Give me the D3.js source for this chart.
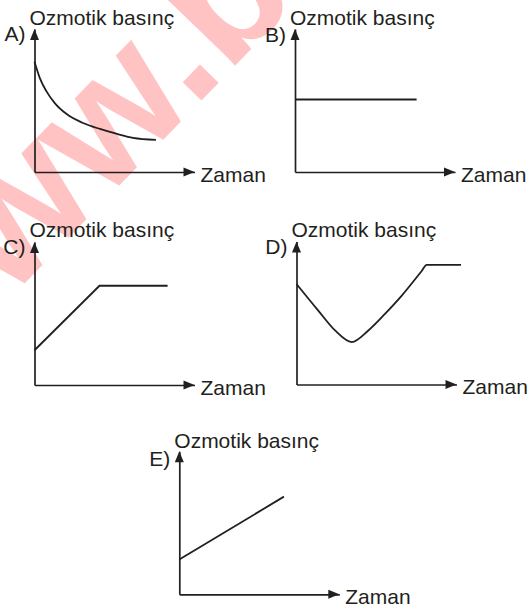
<!DOCTYPE html>
<html lang="tr">
<head>
    <meta charset="UTF-8">
    <title>Ozmotik basınç - Zaman</title>
    <script src="https://cdnjs.cloudflare.com/ajax/libs/d3/7.8.5/d3.min.js"></script>
    <style>
        body { margin: 0; background: #fff; }
        text { font-family: "Liberation Sans", Arial, sans-serif; fill: #231f20; }
    </style>
</head>
<body>
    <script>
        // Axis titles and panel letters
        var yTitle = "Ozmotik basınç";
        var xTitle = "Zaman";
        var panelLabels = ["A)", "B)", "C)", "D)", "E)"];

        // Series per panel, time (0-100) and osmotic pressure (0-100)
        var timeA = [0, 3.4, 7.6, 12.8, 20.1, 30.3, 40.9, 51.6, 61.6, 75.9];
        var pressureA = [77.1, 65.5, 56.2, 48, 40.5, 34.3, 30.1, 26.6, 23.8, 22.4];
        var timeB = [0, 76];
        var pressureB = [50.7, 50.7];
        var timeC = [0, 40.6, 83.2];
        var pressureC = [24.3, 69.4, 69.4];
        var timeD = [0, 13.6, 24.1, 34.5, 44.9, 55.3, 65.8, 78, 81.4, 102.8];
        var pressureD = [70.3, 51.7, 37.8, 29.7, 37.8, 49.4, 62.2, 79, 83.7, 83.7];
        var timeE = [0, 65.4];
        var pressureE = [24.3, 68.3];

        var series = [
            {time: timeA, pressure: pressureA, smooth: true},
            {time: timeB, pressure: pressureB, smooth: false},
            {time: timeC, pressure: pressureC, smooth: false},
            {time: timeD, pressure: pressureD, smooth: true},
            {time: timeE, pressure: pressureE, smooth: false}
        ];

        // where each little chart sits (axis origin), plus label offsets
        var layout = [
            {ox: 34.5, oy: 172, labelDy: 12, titleDy: -4},
            {ox: 295, oy: 172, labelDy: 13, titleDy: -4},
            {ox: 34.5, oy: 385, labelDy: 12, titleDy: -5},
            {ox: 296.5, oy: 384.5, labelDy: 12, titleDy: -5},
            {ox: 179.3, oy: 594.3, labelDy: 15, titleDy: -3}
        ];
        var w = 160, h = 143;
        var ink = "#231f20";

        var svg = d3.select("body")
            .append("svg")
            .attr("width", 528)
            .attr("height", 608);

        // watermark behind everything (runs off the top-left like in the scan)
        svg.append("text")
            .attr("transform", "translate(-86,398) rotate(-46)")
            .style("font-size", "175px")
            .style("font-weight", "bold")
            .style("fill", "#ff0000")
            .style("opacity", 0.23)
            .text("www.b");

        series.forEach(function(s, i) {
            var p = layout[i];
            var xScale = d3.scaleLinear().domain([0, 100]).range([p.ox, p.ox + w]);
            var yScale = d3.scaleLinear().domain([0, 100]).range([p.oy, p.oy - h]);
            var g = svg.append("g");

            // axes without ticks, only the domain line
            g.append("g")
                .attr("transform", "translate(0," + p.oy + ")")
                .call(d3.axisBottom(xScale).tickValues([]).tickSizeOuter(0))
                .select(".domain").attr("stroke", ink).attr("stroke-width", 1.7);
            g.append("g")
                .attr("transform", "translate(" + p.ox + ",0)")
                .call(d3.axisLeft(yScale).tickValues([]).tickSizeOuter(0))
                .select(".domain").attr("stroke", ink).attr("stroke-width", 1.7);

            // arrow heads
            var xt = xScale(100), yt = yScale(100);
            g.append("path")
                .attr("d", "M" + xt + "," + p.oy + "l-11,-4.5v9z")
                .attr("fill", ink);
            g.append("path")
                .attr("d", "M" + p.ox + "," + yt + "l-4.5,11h9z")
                .attr("fill", ink);

            // the curve
            var pts = s.time.map(function(t, k) { return [t, s.pressure[k]]; });
            var line = d3.line()
                .x(function(d) { return xScale(d[0]); })
                .y(function(d) { return yScale(d[1]); })
                .curve(s.smooth ? d3.curveMonotoneX : d3.curveLinear);
            g.append("path")
                .attr("d", line(pts))
                .attr("fill", "none")
                .attr("stroke", ink)
                .attr("stroke-width", 1.8);

            // texts
            g.append("text")
                .attr("x", p.ox - 5)
                .attr("y", yt + p.titleDy)
                .style("font-size", "21px")
                .text(yTitle);
            g.append("text")
                .attr("x", p.ox - 9)
                .attr("y", yt + p.labelDy)
                .attr("text-anchor", "end")
                .style("font-size", "21px")
                .text(panelLabels[i]);
            g.append("text")
                .attr("x", xt + 6)
                .attr("y", p.oy + 9.5)
                .style("font-size", "21px")
                .text(xTitle);
        });
    </script>
</body>
</html>
